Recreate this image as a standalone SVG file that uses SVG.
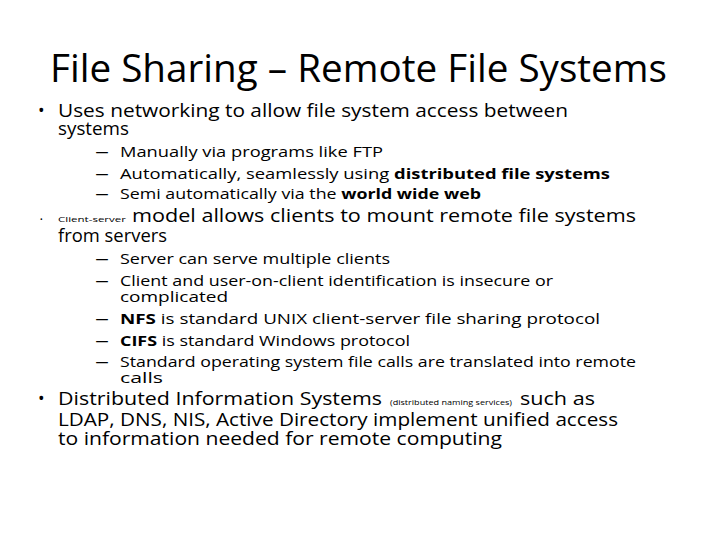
<svg xmlns="http://www.w3.org/2000/svg" width="720" height="540" viewBox="0 0 720 540">
<style>
text{font-family:"Open Sans","Liberation Sans",sans-serif;fill:#000}
.t{font-size:38px}
.l1{font-size:17.5px}
.l2{font-size:14.5px}
.s{font-size:7px}
.b{font-weight:bold}
</style>
<rect width="720" height="540" fill="#fff"/>
<g id="title"><text class="t" x="50" y="82" textLength="617" lengthAdjust="spacingAndGlyphs">File Sharing – Remote File Systems</text></g>
<g id="body">
<text class="l1" x="38" y="117">•</text>
<text class="l1" x="58" y="117" textLength="510" lengthAdjust="spacingAndGlyphs">Uses networking to allow file system access between</text>
<text class="l1" x="58" y="135" textLength="71" lengthAdjust="spacingAndGlyphs">systems</text>
<text class="l2" x="95" y="157" textLength="14" lengthAdjust="spacingAndGlyphs">–</text>
<text class="l2" x="120" y="157" textLength="263" lengthAdjust="spacingAndGlyphs">Manually via programs like FTP</text>
<text class="l2" x="95" y="179" textLength="14" lengthAdjust="spacingAndGlyphs">–</text>
<text class="l2" x="120" y="179" textLength="490" lengthAdjust="spacingAndGlyphs">Automatically, seamlessly using <tspan class="b">distributed file systems</tspan></text>
<text class="l2" x="95" y="199" textLength="14" lengthAdjust="spacingAndGlyphs">–</text>
<text class="l2" x="120" y="199" textLength="361" lengthAdjust="spacingAndGlyphs">Semi automatically via the <tspan class="b">world wide web</tspan></text>
<text class="s" x="40" y="222">•</text>
<text class="s" x="58" y="222" textLength="68" lengthAdjust="spacingAndGlyphs">Client-server</text>
<text class="l1" x="132" y="222" textLength="504" lengthAdjust="spacingAndGlyphs">model allows clients to mount remote file systems</text>
<text class="l1" x="58" y="242" textLength="109" lengthAdjust="spacingAndGlyphs">from servers</text>
<text class="l2" x="95" y="264" textLength="14" lengthAdjust="spacingAndGlyphs">–</text>
<text class="l2" x="120" y="264" textLength="270" lengthAdjust="spacingAndGlyphs">Server can serve multiple clients</text>
<text class="l2" x="95" y="286" textLength="14" lengthAdjust="spacingAndGlyphs">–</text>
<text class="l2" x="120" y="286" textLength="433" lengthAdjust="spacingAndGlyphs">Client and user-on-client identification is insecure or</text>
<text class="l2" x="120" y="302" textLength="108" lengthAdjust="spacingAndGlyphs">complicated</text>
<text class="l2" x="95" y="324" textLength="14" lengthAdjust="spacingAndGlyphs">–</text>
<text class="l2" x="120" y="324" textLength="480" lengthAdjust="spacingAndGlyphs"><tspan class="b">NFS</tspan> is standard UNIX client-server file sharing protocol</text>
<text class="l2" x="95" y="346" textLength="14" lengthAdjust="spacingAndGlyphs">–</text>
<text class="l2" x="120" y="346" textLength="290" lengthAdjust="spacingAndGlyphs"><tspan class="b">CIFS</tspan> is standard Windows protocol</text>
<text class="l2" x="95" y="367" textLength="14" lengthAdjust="spacingAndGlyphs">–</text>
<text class="l2" x="120" y="367" textLength="516" lengthAdjust="spacingAndGlyphs">Standard operating system file calls are translated into remote</text>
<text class="l2" x="120" y="383" textLength="43" lengthAdjust="spacingAndGlyphs">calls</text>
<text class="l1" x="38" y="405">•</text>
<text class="l1" x="58" y="405" textLength="324" lengthAdjust="spacingAndGlyphs">Distributed Information Systems</text>
<text class="s" x="390" y="405" textLength="122" lengthAdjust="spacingAndGlyphs">(distributed naming services)</text>
<text class="l1" x="520" y="405" textLength="75" lengthAdjust="spacingAndGlyphs">such as</text>
<text class="l1" x="58" y="426" textLength="560" lengthAdjust="spacingAndGlyphs">LDAP, DNS, NIS, Active Directory implement unified access</text>
<text class="l1" x="58" y="445" textLength="444" lengthAdjust="spacingAndGlyphs">to information needed for remote computing</text>
</g>
</svg>
